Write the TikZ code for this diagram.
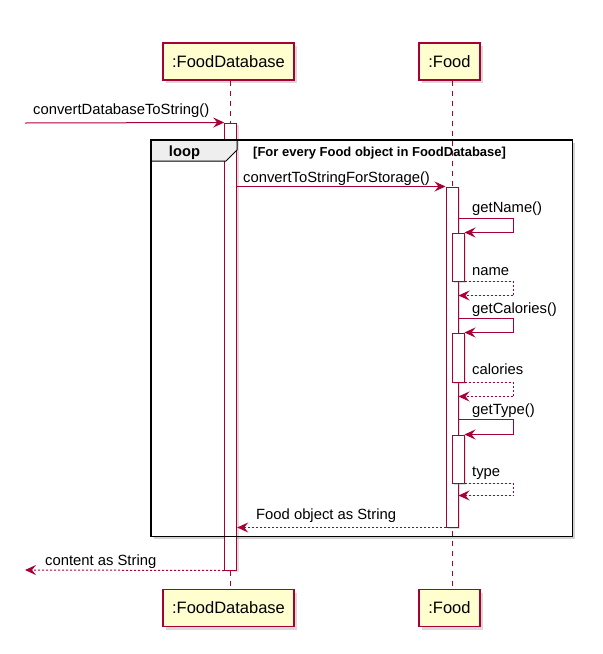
\documentclass[tikz,border=0pt]{standalone}
\usepackage{fontspec}
\setmainfont{Liberation Sans}
\usetikzlibrary{arrows.meta,shadows}
\definecolor{pred}{HTML}{A80036}
\definecolor{pfill}{HTML}{FEFECE}
\definecolor{tabgray}{HTML}{EEEEEE}
\begin{document}
\begin{tikzpicture}[x=1pt,y=-1pt,
  part/.style={draw=pred, fill=pfill, line width=1.2pt, minimum height=37pt, inner sep=0pt,
    font=\fontsize{16.5}{18}\selectfont,
    drop shadow={shadow xshift=3pt, shadow yshift=-3pt, opacity=0.3}},
  actbox/.style={draw=pred, fill=white, line width=1pt, minimum width=12pt, inner sep=0pt,
    drop shadow={shadow xshift=2pt, shadow yshift=-2pt, opacity=0.25}},
  lifeline/.style={draw=pred, line width=1pt, dash pattern=on 5pt off 5pt},
  msg/.style={draw=pred, line width=1pt, -{Stealth[length=11pt,width=10pt,inset=4pt]}},
  ret/.style={msg, dash pattern=on 2pt off 2pt},
  lbl/.style={anchor=base west, inner sep=0pt, font=\fontsize{14.8}{16}\selectfont},
]
\useasboundingbox (0,0) rectangle (603,654);

% loop frame background with shadow
\node[fill=white, minimum width=421pt, minimum height=396pt, inner sep=0pt, anchor=north west,
  drop shadow={shadow xshift=3pt, shadow yshift=-3pt, opacity=0.35}] (loopfr) at (151,140) {};

% participants
\node[part, minimum width=131pt] (dbTop) at (228.5,61.5) {:FoodDatabase};
\node[part, minimum width=61pt] (foodTop) at (449.5,61.5) {:Food};
\node[part, minimum width=131pt] (dbBot) at (228.5,608) {:FoodDatabase};
\node[part, minimum width=61pt] (foodBot) at (449.5,608) {:Food};

% activation bars (positions)
\coordinate (dbX) at (230.7,0);
\coordinate (foodX) at (452,0);
\draw[lifeline] (dbTop.south -| dbX) -- (dbBot.north -| dbX);
\draw[lifeline] (foodTop.south -| foodX) -- (foodBot.north -| foodX);

\node[actbox, minimum height=447pt] (dbAct) at (230.7,346.5) {};
\node[actbox, minimum height=340pt] (foodAct) at (452,357) {};
\node[actbox, minimum height=48pt] (nameAct) at (458,257) {};
\node[actbox, minimum height=49pt] (calAct) at (458,357.5) {};
\node[actbox, minimum height=48pt] (typeAct) at (458,459) {};

% loop tab and frame border
\draw[fill=tabgray, line width=1pt] (loopfr.north west) -- ++(86,0) -- ++(0,10) -- ++(-11,11) -- ++(-75,0) -- cycle;
\draw[line width=1.8pt] (loopfr.north west) rectangle (loopfr.south east);
\node[anchor=base, inner sep=0pt, font=\fontsize{14.7}{16}\selectfont\bfseries] (looplbl) at (184.5,156) {loop};
\node[anchor=base west, inner sep=0pt, font=\fontsize{13}{15}\selectfont\bfseries] (guard) at (253,156) {[For every Food object in FoodDatabase]};

% messages
\coordinate (ext1) at (25,123);
\draw[msg] (ext1) -- (dbAct.north west);
\node[lbl] (l1) at (33,114) {convertDatabaseToString()};

\draw[msg] (dbAct.east |- foodAct.north) -- (foodAct.north west);
\node[lbl] (l2) at (243,182) {convertToStringForStorage()};

\coordinate (s1) at (0,218);
\draw[msg] (foodAct.east |- s1) -- ++(55,0) |- (nameAct.north east);
\node[lbl] (l3) at (472,212) {getName()};
\coordinate (r1) at (0,295.5);
\draw[ret] (nameAct.south east) -- ++(49,0) |- (foodAct.east |- r1);
\node[lbl] (l4) at (472,275) {name};

\coordinate (s2) at (0,318);
\draw[msg] (foodAct.east |- s2) -- ++(55,0) |- (calAct.north east);
\node[lbl] (l5) at (472,313) {getCalories()};
\coordinate (r2) at (0,396.5);
\draw[ret] (calAct.south east) -- ++(49,0) |- (foodAct.east |- r2);
\node[lbl] (l6) at (472,374) {calories};

\coordinate (s3) at (0,419.5);
\draw[msg] (foodAct.east |- s3) -- ++(55,0) |- (typeAct.north east);
\node[lbl] (l7) at (472,414) {getType()};
\coordinate (r3) at (0,495.5);
\draw[ret] (typeAct.south east) -- ++(49,0) |- (foodAct.east |- r3);
\node[lbl] (l8) at (472,476) {type};

\draw[ret] (foodAct.south west) -- (dbAct.east |- foodAct.south);
\node[lbl] (l9) at (256,519) {Food object as String};

\coordinate (ext2) at (25,570);
\draw[ret] (dbAct.south west) -- (ext2);
\node[lbl] (l10) at (45,565) {content as String};
\end{tikzpicture}
\end{document}
